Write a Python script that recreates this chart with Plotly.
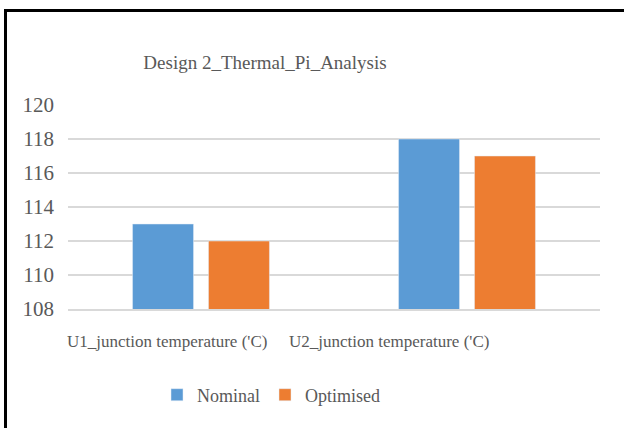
import plotly.graph_objects as go

categories = ["U1_junction temperature ('C)", "U2_junction temperature ('C)"]
nominal = [113, 118]
optimised = [112, 117]
series_names = ["Nominal", "Optimised"]
y_ticks = [108, 110, 112, 114, 116, 118, 120]
title_text = "Design 2_Thermal_Pi_Analysis"

FONT = "Liberation Serif"
GREY = "#595959"
W, H = 624, 428
L, R, T, B = 68, 24, 105, 119
PW, PH = W - L - R, H - T - B

def px_x(p):
    return (p - L) / PW

def px_y(p):
    return (H - B - p) / PH

fig = go.Figure()
fig.add_trace(go.Bar(x=categories, y=nominal, name=series_names[0], marker_color="#5B9BD5"))
fig.add_trace(go.Bar(x=categories, y=optimised, name=series_names[1], marker_color="#ED7D31"))

label_shifts = [-34, -78]
annotations = []
for i, c in enumerate(categories):
    annotations.append(dict(
        x=c, xref="x", y=px_y(341), yref="paper", text=c, showarrow=False,
        xanchor="center", yanchor="middle", xshift=label_shifts[i],
        font=dict(family=FONT, size=17, color=GREY)))

shapes = [
    dict(type="line", xref="paper", yref="paper", x0=px_x(5.5), x1=px_x(5.5),
         y0=px_y(9), y1=px_y(440), line=dict(color="black", width=3)),
    dict(type="line", xref="paper", yref="paper", x0=px_x(4), x1=px_x(640),
         y0=px_y(10.5), y1=px_y(10.5), line=dict(color="black", width=3)),
]

fig.update_layout(
    width=W, height=H,
    margin=dict(l=L, r=R, t=T, b=B, autoexpand=False),
    paper_bgcolor="white", plot_bgcolor="white",
    barmode="group", bargap=0.429, bargroupgap=0.197,
    title=dict(text=title_text, x=265 / W, xref="container", xanchor="center",
               y=1 - 62 / H, yref="container", yanchor="middle",
               font=dict(family=FONT, size=19, color=GREY)),
    font=dict(family=FONT, size=18, color=GREY),
    xaxis=dict(showticklabels=False, showgrid=False, showline=True,
               linecolor="#D9D9D9", linewidth=2, ticks="", zeroline=False,
               range=[-0.5, 1.5], automargin=False),
    yaxis=dict(range=[108, 120], tickvals=y_ticks, showgrid=True,
               gridcolor="#D9D9D9", gridwidth=2, zeroline=False, showline=False,
               ticks="", ticklabelstandoff=13, automargin=False,
               tickfont=dict(family=FONT, size=21, color=GREY)),
    legend=dict(orientation="h", x=px_x(271), xanchor="center", y=px_y(395),
                yanchor="middle", font=dict(family=FONT, size=18, color=GREY),
                itemwidth=30, tracegroupgap=0),
    annotations=annotations,
    shapes=shapes,
)

fig.write_html("out.html")
